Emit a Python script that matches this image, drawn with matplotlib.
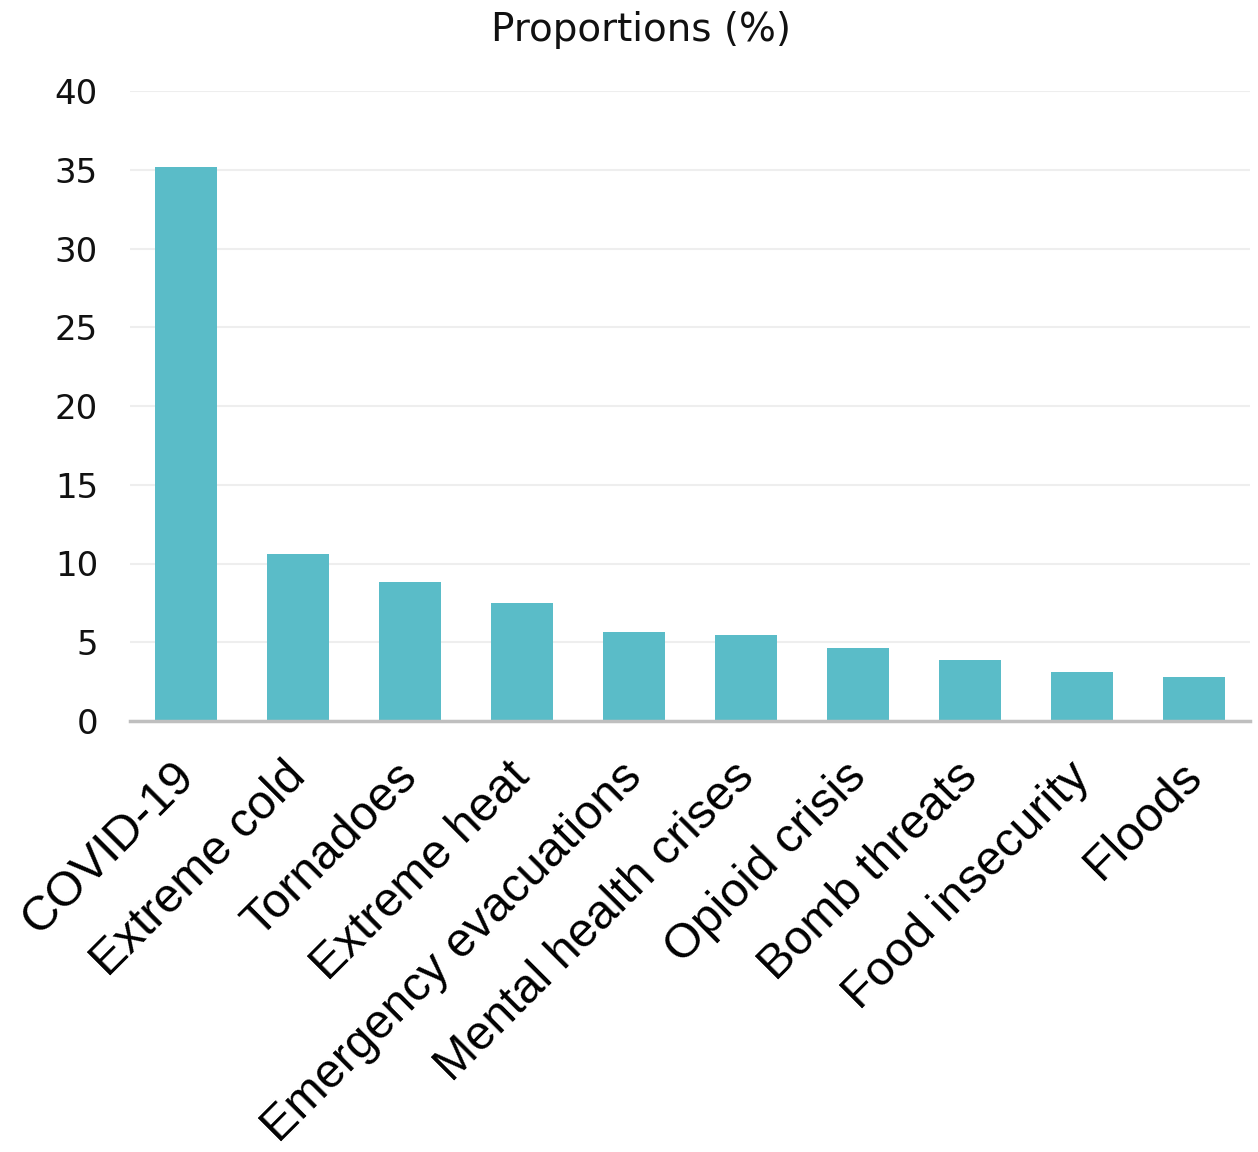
import matplotlib
matplotlib.use("Agg")
import matplotlib.pyplot as plt
import matplotlib.transforms as mtransforms

categories = ["COVID-19", "Extreme cold", "Tornadoes", "Extreme heat",
              "Emergency evacuations", "Mental health crises", "Opioid crisis",
              "Bomb threats", "Food insecurity", "Floods"]
values = [35.15, 10.62, 8.8, 7.51, 5.67, 5.44, 4.65, 3.87, 3.09, 2.81]
yticks = [0, 5, 10, 15, 20, 25, 30, 35, 40]
title = "Proportions (%)"

fig = plt.figure(figsize=(12.58, 11.52), dpi=100)
ax = fig.add_axes([130/1258, 1-721/1152, 1120/1258, 630/1152])

x = list(range(len(categories)))
ax.bar(x, values, width=0.55, color="#5ABCC8", zorder=3)
ax.set_xlim(-0.5, len(categories) - 0.5)
ax.set_ylim(0, 40)
ax.set_yticks(yticks)
ax.set_yticklabels([str(v) for v in yticks], fontsize=24.5, family="DejaVu Sans", color="#111111")
ax.yaxis.grid(True, color="#EEEEEE", linewidth=1.5, zorder=0)
ax.set_axisbelow(True)
for s in ["left", "right", "top"]:
    ax.spines[s].set_visible(False)
ax.spines["bottom"].set_color("#BFBFBF")
ax.spines["bottom"].set_linewidth(2.5)
ax.spines["bottom"].set_zorder(4)
ax.tick_params(axis="both", length=0)
ax.tick_params(axis="y", pad=23)

ax.set_xticks(x)
ax.set_xticklabels(categories, rotation=45, ha="right", va="top",
                   rotation_mode="anchor", fontsize=34.8, family="Liberation Sans",
                   color="black")
offset = mtransforms.ScaledTranslation(-0.15, -0.28, fig.dpi_scale_trans)
for lab in ax.get_xticklabels():
    lab.set_transform(lab.get_transform() + offset)

fig.text(641/1258, 1-30/1152, title, ha="center", va="center", fontsize=28,
         family="DejaVu Sans", color="#111111")

fig.savefig("out.png", dpi=100, facecolor="white")
